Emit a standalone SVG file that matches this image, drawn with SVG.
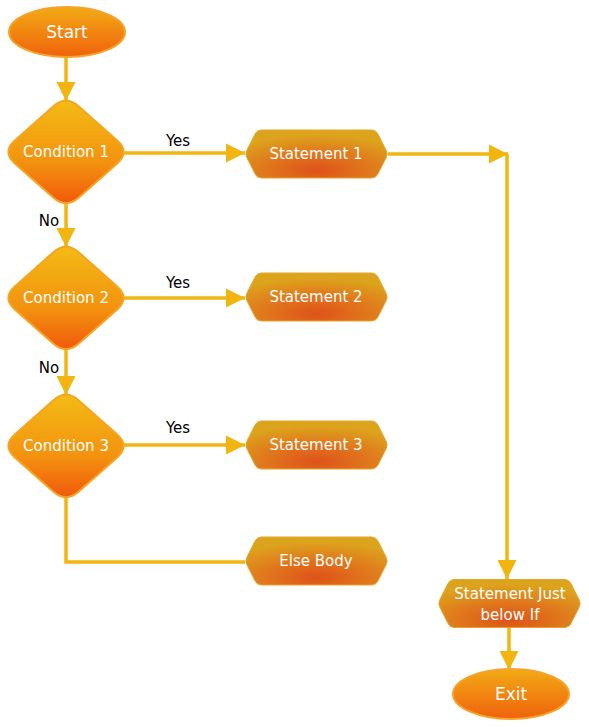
<svg xmlns="http://www.w3.org/2000/svg" width="589" height="727" viewBox="0 0 589 727">
<defs>
<linearGradient id="gDia" x1="0" y1="0" x2="0" y2="1">
<stop offset="0" stop-color="#f3bb14"/>
<stop offset="0.6" stop-color="#f3920f"/>
<stop offset="1" stop-color="#f0590b"/>
</linearGradient>
<linearGradient id="gEll" x1="0" y1="0" x2="0" y2="1">
<stop offset="0" stop-color="#f2aa14"/>
<stop offset="1" stop-color="#f0620c"/>
</linearGradient>
<radialGradient id="gSt" cx="0.5" cy="0.85" r="0.75" fx="0.5" fy="0.85">
<stop offset="0" stop-color="#df5219"/>
<stop offset="0.5" stop-color="#e0771c"/>
<stop offset="1" stop-color="#dca41c"/>
</radialGradient>
<path id="hex" d="M246.8,150.4 L254.8,134.5 Q257,130 262,130 L371,130 Q376,130 378.2,134.5 L386.2,150.4 Q388,154 386.2,157.6 L378.2,173.5 Q376,178 371,178 L262,178 Q257,178 254.8,173.5 L246.8,157.6 Q245,154 246.8,150.4 Z"/>
<path id="dmd" d="M53.2,106.4 Q66,95 78.8,106.4 L117.2,140.6 Q130,152 117.2,163.4 L78.8,197.6 Q66,209 53.2,197.6 L14.8,163.4 Q2,152 14.8,140.6 Z"/>
<marker id="ah" viewBox="0 0 10 10" refX="10" refY="5" markerWidth="5.5" markerHeight="5.5" markerUnits="strokeWidth" orient="auto">
<path d="M0,0 L10,5 L0,10 Z" fill="#f2b50f"/>
</marker>
<style>
.ln{fill:none;stroke:#f2b50f;stroke-width:3.5}
.dia{fill:url(#gDia);stroke:#f6a421;stroke-width:2}
.ell{fill:url(#gEll);stroke:#f5a32a;stroke-width:2}
.st{fill:url(#gSt);stroke:#e4a62a;stroke-width:1}
.wt{font-family:"DejaVu Sans",sans-serif;font-size:15px;fill:#ffffff;text-anchor:middle}
.big{font-size:17px}
.bt{font-family:"DejaVu Sans",sans-serif;font-size:15px;fill:#000000;text-anchor:middle}
</style>
</defs>
<rect width="589" height="727" fill="#ffffff"/>
<g id="connectors">
<path class="ln" d="M66,57 L66,101" marker-end="url(#ah)"/>
<path class="ln" d="M124,153 L245,153" marker-end="url(#ah)"/>
<path class="ln" d="M66,203 L66,247" marker-end="url(#ah)"/>
<path class="ln" d="M124,298 L245,298" marker-end="url(#ah)"/>
<path class="ln" d="M66,349 L66,395" marker-end="url(#ah)"/>
<path class="ln" d="M124,445 L245,445" marker-end="url(#ah)"/>
<path class="ln" d="M66,497 L66,562 L245,562"/>
<path class="ln" d="M388,154 L508,154" marker-end="url(#ah)"/>
<path class="ln" d="M507,154 L507,579" marker-end="url(#ah)"/>
<path class="ln" d="M509,628 L509,670" marker-end="url(#ah)"/>
<text class="bt" x="178" y="146">Yes</text>
<text class="bt" x="178" y="288">Yes</text>
<text class="bt" x="178" y="433">Yes</text>
<text class="bt" x="49" y="226">No</text>
<text class="bt" x="49" y="373">No</text>
</g>
<g id="start">
<ellipse class="ell" cx="67" cy="32" rx="58" ry="25"/>
<text class="wt big" x="67" y="38">Start</text>
</g>
<g id="cond1">
<use href="#dmd" class="dia"/>
<text class="wt" x="66" y="157">Condition 1</text>
</g>
<g id="cond2">
<use href="#dmd" class="dia" transform="translate(0,146)"/>
<text class="wt" x="66" y="303">Condition 2</text>
</g>
<g id="cond3">
<use href="#dmd" class="dia" transform="translate(0,294)"/>
<text class="wt" x="66" y="451">Condition 3</text>
</g>
<g id="stmt1">
<use href="#hex" class="st"/>
<text class="wt" x="316" y="159">Statement 1</text>
</g>
<g id="stmt2">
<use href="#hex" class="st" transform="translate(0,143)"/>
<text class="wt" x="316" y="302">Statement 2</text>
</g>
<g id="stmt3">
<use href="#hex" class="st" transform="translate(0,291)"/>
<text class="wt" x="316" y="450">Statement 3</text>
</g>
<g id="elsebody">
<use href="#hex" class="st" transform="translate(0,407)"/>
<text class="wt" x="316" y="566">Else Body</text>
</g>
<g id="below">
<use href="#hex" class="st" transform="translate(193,449.5)"/>
<text class="wt" x="510" y="599">Statement Just</text>
<text class="wt" x="510" y="620">below If</text>
</g>
<g id="exit">
<ellipse class="ell" cx="511" cy="694" rx="58" ry="25"/>
<text class="wt big" x="511" y="700">Exit</text>
</g>
</svg>
